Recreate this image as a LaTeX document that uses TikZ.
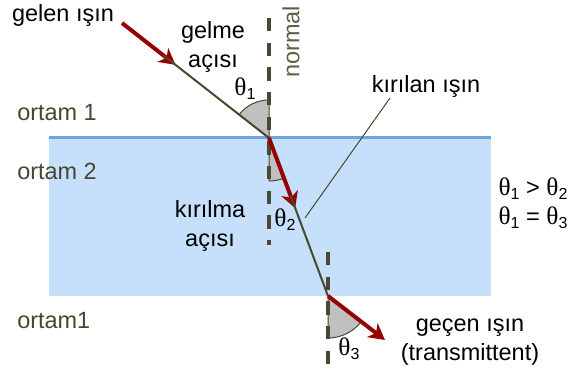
\documentclass[tikz,border=0pt]{standalone}
\usepackage{fontspec}
\setmainfont{Liberation Sans}
\newfontfamily\grkfont{Liberation Serif}
\usepackage{xcolor}
\usetikzlibrary{arrows.meta, calc}

\definecolor{raybeam}{RGB}{150,0,0}
\definecolor{rayline}{RGB}{72,72,48}
\definecolor{normgray}{RGB}{72,72,52}
\definecolor{mediumtext}{RGB}{70,70,50}
\definecolor{normtext}{RGB}{95,95,70}
\definecolor{waterfill}{RGB}{198,224,251}
\definecolor{waterline}{RGB}{112,164,221}
\definecolor{sectorgray}{RGB}{192,192,192}

\newcommand{\thsub}[1]{{\grkfont\fontsize{19}{19}\selectfont θ}\raisebox{-3pt}{\fontsize{12}{12}\selectfont #1}}

\begin{document}
\begin{tikzpicture}[
  x=0.75pt, y=0.75pt,
  font=\fontsize{17.6}{22}\selectfont,
  >={Stealth[length=12pt, width=13pt, inset=3.5pt]},
  beam/.style={->, draw=raybeam, fill=raybeam, line width=3pt},
  ray/.style={draw=rayline, line width=1.5pt},
  leader/.style={draw=rayline, line width=0.75pt},
  normalline/.style={draw=normgray, line width=2.4pt, dash pattern=on 10pt off 8.5pt},
  sector/.style={fill=sectorgray, draw=rayline, line width=0.75pt},
  lbl/.style={inner sep=0pt, align=center},
  medium/.style={lbl, text=mediumtext, anchor=west},
]
\useasboundingbox (0,0) rectangle (569,370);

\coordinate (S) at (122,347);
\coordinate (A) at (269,232);
\coordinate (B) at (328,74);
\coordinate (out) at (385,30);
\coordinate (inarrow) at ($(S)!0.364!(A)$);
\coordinate (inolive) at ($(S)!0.28!(A)$);
\coordinate (refarrow) at ($(A)!0.444!(B)$);
\coordinate (refolive) at ($(A)!0.36!(B)$);
\coordinate (leadtop) at (390,272);
\coordinate (leadfoot) at (305,152);

\fill[waterfill] (49,74) rectangle (491,232);
\draw[waterline, line width=2.25pt] (49,232) -- (491,232);

\draw[sector] (A) -- ++(90:38) arc[start angle=90, end angle=142, radius=38] -- cycle;
\draw[sector] (A) -- ++(270:43) arc[start angle=270, end angle=290.5, radius=43] -- cycle;
\draw[sector] (B) -- ++(270:42) arc[start angle=270, end angle=322, radius=42] -- cycle;

\draw[normalline] (269,352) -- (269,125);
\draw[normalline] (328,118) -- (328,0);

\draw[beam] (S) -- (inarrow);
\draw[ray] (inolive) -- (A);
\draw[beam] (A) -- (refarrow);
\draw[ray] (refolive) -- (B);
\draw[beam] (B) -- (out);
\draw[leader] (leadtop) -- (leadfoot);

\node[lbl] (gelen) at (63,355) {gelen ışın};
\node[lbl] (gelme) at (213,323) {gelme\\açısı};
\node[lbl, text=normtext, rotate=90] (normal) at (291,328) {normal};
\node[lbl] (th1) at (245,281) {\thsub{1}};
\node[medium] (ortam1) at (17,257) {ortam 1};
\node[medium] (ortam2) at (17,199) {ortam 2};
\node[medium] (ortam3) at (17,49) {ortam1};
\node[lbl] (kirilma) at (210,144) {kırılma\\açısı};
\node[lbl] (th2) at (285,150) {\thsub{2}};
\node[lbl] (kirilan) at (426,284) {kırılan ışın};
\node[lbl] (rel) at (533,167) {\thsub{1} > \thsub{2}\\\thsub{1} = \thsub{3}};
\node[lbl] (gecen) at (470,28) {geçen ışın\\(transmittent)};
\node[lbl] (th3) at (349,21) {\thsub{3}};
\end{tikzpicture}
\end{document}
